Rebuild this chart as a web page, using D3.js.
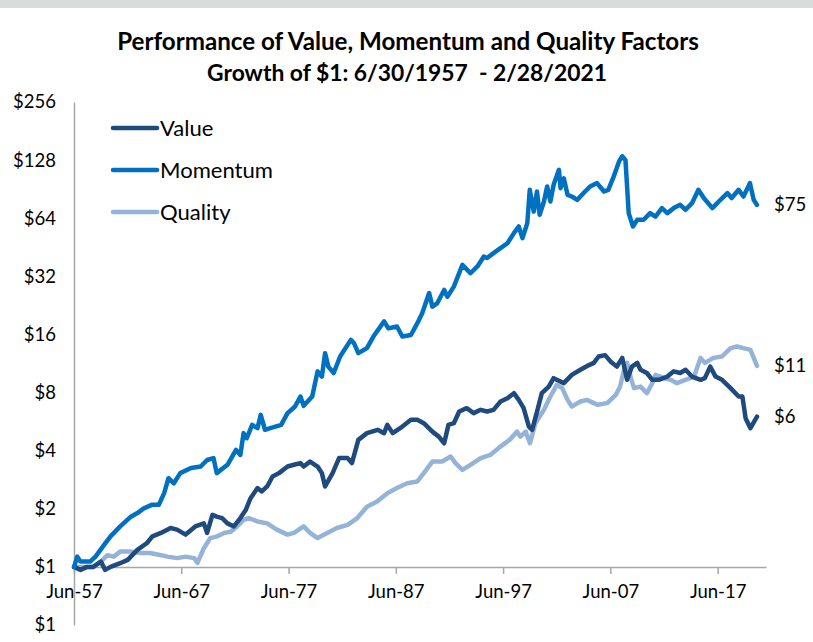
<!DOCTYPE html>
<html><head><meta charset="utf-8">
<script src="https://cdn.jsdelivr.net/npm/d3@7"></script>
<style>
body{margin:0;background:#fff}
text{font-family:Lato,"Open Sans",sans-serif;fill:#000}
</style>
</head><body>
<svg id="c" width="813" height="642"></svg>
<script>
// ---------- data ----------
const titleLines = ["Performance of Value, Momentum and Quality Factors", "Growth of $1: 6/30/1957  - 2/28/2021"];
const seriesNames = ["Value", "Momentum", "Quality"];
const seriesColors = ["#1f4a7e", "#0070c0", "#95b3d7"];

const momentumYears = [1957.5,1957.8,1958.1,1959.0,1959.5,1960.3,1960.9,1961.8,1962.8,1963.4,1964.0,1964.8,1965.4,1965.9,1966.3,1966.8,1967.4,1968.4,1969.3,1969.9,1970.5,1970.8,1971.8,1972.6,1973.0,1973.3,1973.6,1974.1,1974.6,1974.9,1975.3,1975.8,1976.8,1977.4,1978.1,1978.6,1978.9,1979.7,1980.2,1980.6,1980.9,1981.2,1981.7,1982.3,1983.3,1983.6,1984.0,1984.8,1985.4,1986.4,1986.8,1987.6,1988.1,1988.9,1989.5,1989.95,1990.6,1990.9,1991.35,1992.0,1992.3,1992.9,1993.7,1994.45,1995.1,1995.7,1996.0,1996.6,1997.25,1997.9,1998.5,1998.95,1999.3,1999.75,1999.98,2000.35,2000.65,2000.9,2001.3,2001.6,2001.9,2002.2,2002.7,2002.85,2003.15,2003.5,2003.9,2004.4,2005.0,2005.6,2006.25,2006.9,2007.3,2007.8,2008.3,2008.6,2008.9,2009.2,2009.6,2010.0,2010.6,2011.2,2011.7,2012.3,2012.8,2013.4,2014.0,2014.5,2015.1,2015.7,2016.2,2017.0,2017.6,2018.4,2018.8,2019.45,2019.9,2020.5,2020.85,2021.16];
const momentumValues = [1.0,1.13,1.065,1.065,1.13,1.30,1.44,1.62,1.82,1.90,2.01,2.10,2.10,2.41,2.88,2.71,3.06,3.25,3.31,3.58,3.66,3.06,3.38,4.04,3.80,4.93,4.64,5.44,5.23,6.13,5.13,5.23,5.44,6.26,6.77,7.63,6.83,7.63,10.3,9.68,12.8,10.9,10.1,12.3,15.0,14.4,12.8,13.6,15.6,18.7,17.2,17.6,15.6,15.9,18.3,20.6,26.2,22.3,23.2,27.2,25.1,28.3,36.7,33.2,36.0,40.5,39.8,42.2,44.8,47.5,53.6,58.0,50.5,60.4,89.8,69.3,88.0,66.7,78.1,93.4,78.1,95.3,114,91.6,103,84.6,82.9,79.7,86.4,93.4,97.3,88.0,89.8,105,126,134,128,68.0,58.0,62.8,62.8,68.0,65.3,72.2,68.0,72.2,75.1,70.8,76.6,89.8,81.4,72.2,78.1,86.4,81.4,89.8,82.9,97.3,79.7,75];

const valueYears = [1957.5,1958.1,1958.7,1959.3,1960.0,1960.4,1960.9,1961.8,1962.5,1963.4,1964.3,1964.8,1965.6,1966.5,1967.1,1967.9,1968.8,1969.6,1969.9,1970.4,1970.8,1971.3,1971.8,1972.4,1973.0,1973.5,1973.95,1974.6,1975.0,1975.5,1976.0,1976.6,1977.4,1978.0,1978.6,1978.9,1979.5,1980.2,1980.6,1980.9,1981.6,1982.2,1983.0,1983.4,1984.0,1984.8,1985.8,1986.4,1986.7,1987.2,1987.9,1988.9,1989.5,1990.1,1990.9,1991.5,1992.0,1992.4,1992.9,1993.4,1994.1,1994.75,1995.4,1996.0,1996.6,1997.25,1997.9,1998.5,1998.95,1999.4,1999.9,2000.2,2000.7,2001.1,2001.75,2002.2,2002.5,2003.15,2003.9,2004.7,2005.5,2005.95,2006.4,2007.0,2007.5,2008.1,2008.6,2009.05,2009.5,2010.0,2010.3,2010.9,2011.4,2012.0,2012.8,2013.4,2014.0,2014.5,2015.1,2015.9,2016.3,2016.8,2017.3,2017.9,2018.7,2019.45,2019.8,2020.1,2020.55,2021.16];
const valueValues = [1.0,0.965,1.0,1.0,1.065,0.965,1.0,1.045,1.087,1.225,1.33,1.44,1.50,1.59,1.56,1.47,1.62,1.68,1.50,1.86,1.82,1.79,1.68,1.62,1.79,1.97,2.27,2.56,2.46,2.61,2.94,3.06,3.31,3.38,3.45,3.31,3.51,3.31,3.06,2.61,3.06,3.66,3.66,3.45,4.55,4.93,5.13,4.93,5.44,4.93,5.23,5.78,5.78,5.55,5.02,4.73,4.37,5.44,5.55,6.38,6.64,6.26,6.51,6.38,6.51,7.19,7.48,7.94,7.33,6.67,5.33,5.13,6.51,7.94,8.59,9.50,9.31,8.95,9.88,10.5,11.1,11.4,12.3,12.5,11.6,10.9,12.1,9.31,10.9,11.4,10.5,10.1,9.31,9.31,9.68,10.3,10.1,10.5,9.68,9.31,9.50,10.9,9.68,9.31,8.43,7.63,7.63,5.89,5.23,6.0];

const qualityYears = [1957.5,1958.4,1959.3,1960.0,1960.6,1961.2,1961.8,1962.8,1963.7,1964.6,1965.6,1966.2,1967.1,1967.9,1968.7,1969.0,1969.6,1970.2,1970.85,1971.5,1972.1,1972.7,1973.3,1973.8,1974.6,1975.5,1976.4,1977.4,1978.0,1978.9,1979.5,1980.2,1981.1,1982.0,1983.0,1983.9,1984.8,1985.75,1986.7,1987.6,1988.55,1989.5,1990.1,1990.9,1991.8,1992.6,1993.05,1993.7,1994.45,1995.4,1996.3,1997.25,1998.1,1998.8,1999.1,1999.6,2000.0,2000.5,2001.3,2001.9,2002.5,2003.0,2003.5,2003.9,2004.7,2005.3,2006.3,2007.2,2008.0,2008.4,2008.8,2009.05,2009.4,2009.7,2010.3,2010.9,2011.4,2011.7,2012.5,2013.1,2013.7,2014.5,2015.3,2015.9,2016.3,2017.1,2017.9,2018.7,2019.3,2019.9,2020.55,2021.16];
const qualityValues = [1.0,1.0,1.0,1.065,1.15,1.13,1.20,1.20,1.18,1.18,1.15,1.13,1.11,1.13,1.11,1.05,1.25,1.41,1.44,1.50,1.52,1.62,1.75,1.79,1.72,1.68,1.56,1.47,1.50,1.62,1.50,1.41,1.50,1.59,1.65,1.79,2.05,2.18,2.41,2.56,2.71,2.77,3.06,3.51,3.51,3.73,3.45,3.18,3.38,3.66,3.80,4.20,4.55,5.02,4.73,5.02,4.37,5.55,6.51,7.63,8.77,8.43,7.33,6.77,7.19,7.33,6.91,7.05,7.78,8.59,10.7,11.4,9.50,8.43,8.59,7.94,8.95,9.88,9.50,9.31,8.95,9.31,9.68,12.1,11.4,12.1,12.3,13.6,13.85,13.6,13.3,11];

const yTickValues = [0.5, 1, 2, 4, 8, 16, 32, 64, 128, 256];
const xTickYears = [1957, 1967, 1977, 1987, 1997, 2007, 2017];
const endLabels = ["$6", "$75", "$11"];

// ---------- helpers ----------
function yearToDate(y) {
  const yr = Math.floor(y);
  const start = new Date(yr, 0, 1), end = new Date(yr + 1, 0, 1);
  return new Date(+start + (y - yr) * (end - start));
}
const series = [
  {name: seriesNames[0], color: seriesColors[0], pts: valueYears.map((y, i) => ({d: yearToDate(y), v: valueValues[i]})), label: endLabels[0]},
  {name: seriesNames[1], color: seriesColors[1], pts: momentumYears.map((y, i) => ({d: yearToDate(y), v: momentumValues[i]})), label: endLabels[1]},
  {name: seriesNames[2], color: seriesColors[2], pts: qualityYears.map((y, i) => ({d: yearToDate(y), v: qualityValues[i]})), label: endLabels[2]}
];

const svg = d3.select("#c");
svg.append("rect").attr("x", 0).attr("y", 0).attr("width", 813).attr("height", 8).attr("fill", "#d9dcdb");

const x = d3.scaleTime().domain([new Date(1957, 5, 30), new Date(2022, 0, 1)]).range([74, 766]);
const y = d3.scaleLog().base(2).domain([0.5, 256]).range([625, 102]);

function fitText(sel, base, target) {
  sel.attr("font-size", base);
  const w = sel.node().getComputedTextLength();
  return base * target / w;
}

// title
const titleG = svg.append("g").attr("font-weight", "bold");
const t1 = titleG.append("text").attr("x", 408).attr("y", 50).attr("text-anchor", "middle").style("white-space", "pre").text(titleLines[0]);
t1.attr("font-size", fitText(t1, 20, 582));
const t2 = titleG.append("text").attr("x", 407).attr("y", 81).attr("text-anchor", "middle").style("white-space", "pre").text(titleLines[1]);
t2.attr("font-size", fitText(t2, 20, 400));

// y axis
const yAxis = d3.axisLeft(y).tickValues(yTickValues).tickSize(0).tickPadding(18).tickFormat(v => "$" + Math.round(v));
const gy = svg.append("g").attr("transform", "translate(74,0)").call(yAxis);
gy.select(".domain").attr("stroke", "#a6a6a6").attr("stroke-width", 1.5);
gy.selectAll("text").attr("font-size", 18.5).attr("font-family", "Lato,'Open Sans',sans-serif").attr("fill", "#000");

// x axis at $1
const xAxis = d3.axisBottom(x).tickValues(xTickYears.map(yr => new Date(yr, 5, 30))).tickSize(7).tickSizeOuter(0).tickPadding(11).tickFormat(d3.timeFormat("%b-%y"));
const gx = svg.append("g").attr("transform", `translate(0,${y(1)})`).call(xAxis);
gx.select(".domain").attr("stroke", "#a6a6a6").attr("stroke-width", 1.5);
gx.selectAll(".tick line").attr("stroke", "#a6a6a6").attr("stroke-width", 1.5);
gx.selectAll("text").attr("font-size", 18.5).attr("font-family", "Lato,'Open Sans',sans-serif").attr("fill", "#000");

// lines
const line = d3.line().x(p => x(p.d)).y(p => y(p.v));
const drawOrder = [2, 0, 1];
drawOrder.forEach(i => {
  svg.append("path").datum(series[i].pts).attr("d", line).attr("fill", "none")
    .attr("stroke", series[i].color).attr("stroke-width", 4.5).attr("stroke-linejoin", "round").attr("stroke-linecap", "round");
});

// end labels
series.forEach(s => {
  const last = s.pts[s.pts.length - 1];
  svg.append("text").attr("x", 774).attr("y", y(last.v)).attr("dy", "0.35em").attr("font-size", 18.5).text(s.label);
});

// legend
const lg = svg.append("g");
const legendTexts = [];
series.forEach((s, i) => {
  const ly = 128 + i * 42;
  lg.append("line").attr("x1", 113).attr("x2", 157).attr("y1", ly).attr("y2", ly).attr("stroke", s.color).attr("stroke-width", 4.5).attr("stroke-linecap", "round");
  legendTexts.push(lg.append("text").attr("x", 160).attr("y", ly).attr("dy", "0.35em").text(s.name));
});
const lfs = fitText(legendTexts[1], 19, 113);
legendTexts.forEach(t => t.attr("font-size", lfs));
</script>
</body></html>
